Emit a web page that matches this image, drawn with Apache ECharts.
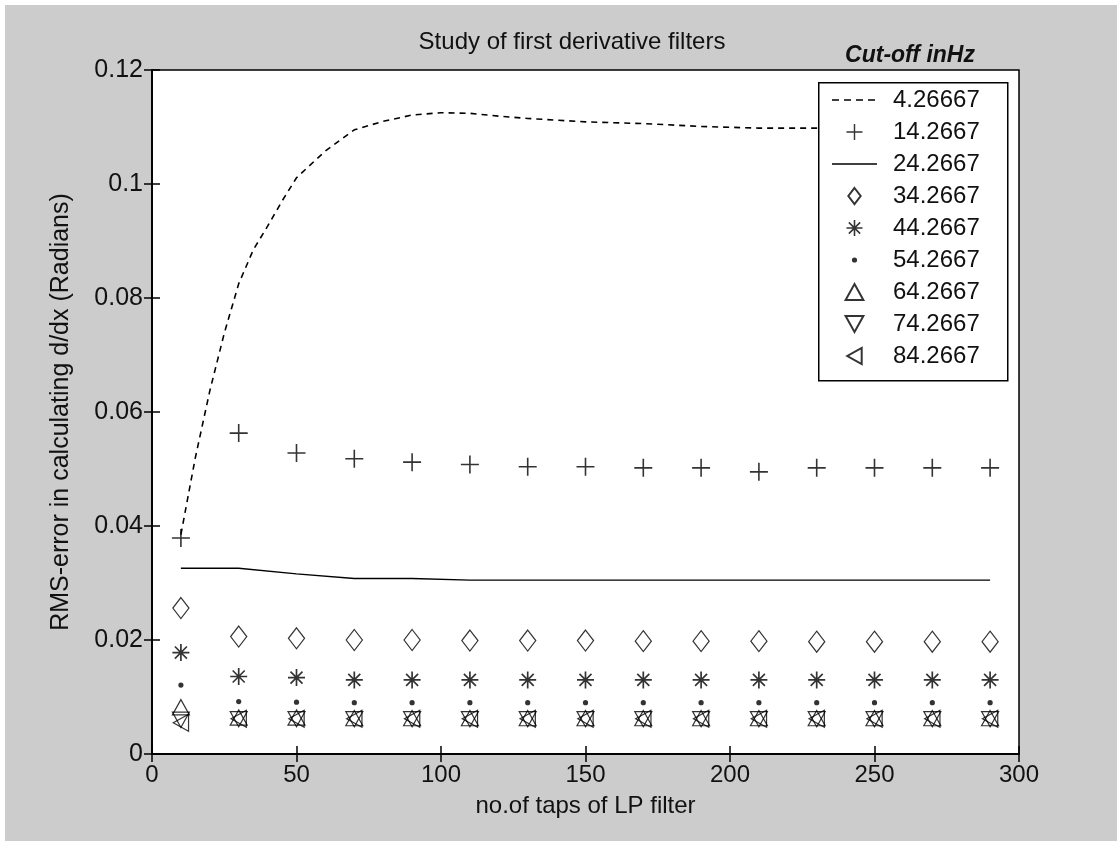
<!DOCTYPE html>
<html>
<head>
<meta charset="utf-8">
<script src="https://cdn.jsdelivr.net/npm/echarts@6/dist/echarts.min.js"></script>
<style>
html,body{margin:0;padding:0;background:#ffffff;}
#chart{width:1117px;height:841px;}
</style>
</head>
<body>
<div id="chart"></div>
<script>
// ---- data ----
const xTaps = [10, 30, 50, 70, 90, 110, 130, 150, 170, 190, 210, 230, 250, 270, 290];
const dashTaps = [10, 15, 20, 25, 30, 35, 40, 45, 50, 60, 70, 80, 90, 100, 110, 120, 130, 150, 170, 190, 210, 230, 250, 270, 290];
const cutoffNames = ['4.26667', '14.2667', '24.2667', '34.2667', '44.2667', '54.2667', '64.2667', '74.2667', '84.2667'];

const err4 = [0.0385, 0.0520, 0.0637, 0.0738, 0.0825, 0.0884, 0.0926, 0.0970, 0.1011, 0.1058, 0.1095, 0.1110, 0.1121, 0.1125, 0.1124, 0.1119, 0.1115, 0.1109, 0.1106, 0.1101, 0.1098, 0.1098, 0.1098, 0.1098, 0.1098];
const err14 = [0.0379, 0.0563, 0.0528, 0.0518, 0.0512, 0.0508, 0.0504, 0.0504, 0.0502, 0.0502, 0.0495, 0.0502, 0.0502, 0.0502, 0.0502];
const err24 = [0.0326, 0.0326, 0.0316, 0.0308, 0.0308, 0.0305, 0.0305, 0.0305, 0.0305, 0.0305, 0.0305, 0.0305, 0.0305, 0.0305, 0.0305];
const err34 = [0.0256, 0.0206, 0.0203, 0.0200, 0.0200, 0.0199, 0.0199, 0.0199, 0.0198, 0.0198, 0.0198, 0.0197, 0.0197, 0.0197, 0.0197];
const err44 = [0.0178, 0.0136, 0.0134, 0.0130, 0.0130, 0.0130, 0.0130, 0.0130, 0.0130, 0.0130, 0.0130, 0.0130, 0.0130, 0.0130, 0.0130];
const err54 = [0.0121, 0.0092, 0.0091, 0.0090, 0.0090, 0.0090, 0.0090, 0.0090, 0.0090, 0.0090, 0.0090, 0.0090, 0.0090, 0.0090, 0.0090];
const err64 = [0.0082, 0.0064, 0.0064, 0.0063, 0.0063, 0.0063, 0.0063, 0.0063, 0.0063, 0.0063, 0.0063, 0.0063, 0.0063, 0.0063, 0.0063];
const err74 = [0.0060, 0.0061, 0.0061, 0.0061, 0.0061, 0.0061, 0.0061, 0.0061, 0.0061, 0.0061, 0.0061, 0.0061, 0.0061, 0.0061, 0.0061];
const err84 = [0.0055, 0.0062, 0.0062, 0.0062, 0.0062, 0.0062, 0.0062, 0.0062, 0.0062, 0.0062, 0.0062, 0.0062, 0.0062, 0.0062, 0.0062];

const yTicks = [0, 0.02, 0.04, 0.06, 0.08, 0.1, 0.12];
const xTicks = [0, 50, 100, 150, 200, 250, 300];

// ---- symbols ----
const FONT = '"Liberation Sans", Arial, Helvetica, sans-serif';
const plusPath = 'path://M-0.8,-9 L0.8,-9 L0.8,-0.8 L9,-0.8 L9,0.8 L0.8,0.8 L0.8,9 L-0.8,9 L-0.8,0.8 L-9,0.8 L-9,-0.8 L-0.8,-0.8 Z';
const starPath = 'path://M-8,-0.8 L8,-0.8 L8,0.8 L-8,0.8 Z M-0.8,-8 L0.8,-8 L0.8,8 L-0.8,8 Z M-6.2,-5.1 L-5.1,-6.2 L6.2,5.1 L5.1,6.2 Z M-5.1,6.2 L-6.2,5.1 L5.1,-6.2 L6.2,-5.1 Z';
const dotPath = 'path://M-8,-8 L-8,-8 M8,8 L8,8 M-2.6,0 A2.6,2.6 0 1 1 2.6,0 A2.6,2.6 0 1 1 -2.6,0 Z';
const diamondPath = 'path://M0,-1.3 L1,0 L0,1.3 L-1,0 Z';
const triUpPath = 'path://M0,-0.9 L1,0.9 L-1,0.9 Z';
const triDownPath = 'path://M-1,-0.9 L1,-0.9 L0,0.9 Z';
const triLeftPath = 'path://M0.9,-1 L0.9,1 L-0.9,0 Z';
const solidLineIcon = 'path://M0,0 L45,0 L45,1.5 L0,1.5 Z';
const dashLineIcon = 'path://M0,0 L7,0 L7,1.5 L0,1.5 Z M12,0 L19,0 L19,1.5 L12,1.5 Z M24,0 L31,0 L31,1.5 L24,1.5 Z M36,0 L43,0 L43,1.5 L36,1.5 Z M45,0 L45,0';

function pairs(xs, ys) { return xs.map((x, i) => [x, ys[i]]); }

const hollow = { color: 'rgba(255,255,255,0)', borderColor: '#000', borderWidth: 1.2 };
const solid = { color: '#000', borderWidth: 0 };

function scatter(name, ys, symbol, size, style) {
  return {
    name: name, type: 'scatter', data: pairs(xTaps, ys),
    symbol: symbol, symbolSize: size, symbolKeepAspect: true, itemStyle: style,
    emphasis: { disabled: true }, silent: true, z: 2
  };
}

const series = [
  {
    name: cutoffNames[0], type: 'line', data: pairs(dashTaps, err4),
    symbol: 'none', showSymbol: false, smooth: false,
    lineStyle: { color: '#000', width: 1.6, type: [6, 5] },
    itemStyle: { color: '#000' }, z: 2, silent: true
  },
  scatter(cutoffNames[1], err14, plusPath, 18, solid),
  {
    name: cutoffNames[2], type: 'line', data: pairs(xTaps, err24),
    symbol: 'none', showSymbol: false,
    lineStyle: { color: '#000', width: 1.4, type: 'solid' },
    itemStyle: { color: '#000' }, z: 2, silent: true
  },
  scatter(cutoffNames[3], err34, diamondPath, 21, hollow),
  scatter(cutoffNames[4], err44, starPath, 17, solid),
  scatter(cutoffNames[5], err54, dotPath, 16, solid),
  scatter(cutoffNames[6], err64, triUpPath, 17, hollow),
  scatter(cutoffNames[7], err74, triDownPath, 17, hollow),
  scatter(cutoffNames[8], err84, triLeftPath, 17, hollow)
];

const legendIcons = [dashLineIcon, plusPath, solidLineIcon, diamondPath, starPath, dotPath, triUpPath, triDownPath, triLeftPath];

const axisTick = { show: true, inside: true, length: 8, lineStyle: { color: '#000', width: 1.5 } };
const axisLine = { show: true, lineStyle: { color: '#000', width: 1.5 } };

const option = {
  backgroundColor: '#cccccc',
  animation: false,
  textStyle: { fontFamily: FONT },
  title: [
    { text: 'Study of first derivative filters', left: 567, top: 25, textAlign: 'center',
      textStyle: { fontFamily: FONT, fontSize: 24, fontWeight: 'normal', color: '#111' } },
    { text: 'Cut-off inHz', left: 905, top: 39, textAlign: 'center',
      textStyle: { fontFamily: FONT, fontSize: 23, fontWeight: 'bold', fontStyle: 'italic', color: '#111' } }
  ],
  grid: {
    left: 152, right: 98, top: 70, bottom: 87,
    show: true, backgroundColor: '#ffffff', borderColor: '#000', borderWidth: 1.5
  },
  xAxis: [
    {
      type: 'value', position: 'bottom', min: xTicks[0], max: xTicks[xTicks.length - 1], interval: 50,
      name: 'no.of taps of LP filter', nameLocation: 'middle', nameGap: 40,
      nameTextStyle: { fontFamily: FONT, fontSize: 24, color: '#111' },
      axisLine: axisLine, axisTick: axisTick, splitLine: { show: false },
      axisLabel: { show: true, margin: 9, fontFamily: FONT, fontSize: 24, color: '#111' }
    },
    {
      type: 'value', position: 'top', min: xTicks[0], max: xTicks[xTicks.length - 1], interval: 50,
      axisLine: axisLine, axisTick: axisTick, splitLine: { show: false }, axisLabel: { show: false }
    }
  ],
  yAxis: [
    {
      type: 'value', position: 'left', min: yTicks[0], max: yTicks[yTicks.length - 1], interval: 0.02,
      name: 'RMS-error in calculating d/dx (Radians)', nameLocation: 'middle', nameGap: 78,
      nameTextStyle: { fontFamily: FONT, fontSize: 25, color: '#111' },
      axisLine: axisLine, axisTick: axisTick, splitLine: { show: false },
      axisLabel: { show: true, margin: 9, fontFamily: FONT, fontSize: 25, color: '#111',
        formatter: function (v) { return v === 0 ? '0' : String(+v.toFixed(2)); } }
    },
    {
      type: 'value', position: 'right', min: yTicks[0], max: yTicks[yTicks.length - 1], interval: 0.02,
      axisLine: axisLine, axisTick: axisTick, splitLine: { show: false }, axisLabel: { show: false }
    }
  ],
  legend: {
    orient: 'vertical', left: 832, top: 88, padding: 0,
    itemWidth: 45, itemHeight: 16, itemGap: 8,
    symbolKeepAspect: true,
    data: cutoffNames.map((n, i) => ({ name: n, icon: legendIcons[i] })),
    selectedMode: false,
    textStyle: { fontFamily: FONT, fontSize: 24, lineHeight: 24, color: '#111', padding: [0, 0, 0, 11] },
    z: 5
  },
  graphic: [
    { type: 'rect', left: 0, top: 0, shape: { width: 1117, height: 5 }, style: { fill: '#ffffff' }, z: 1, silent: true },
    { type: 'rect', left: 0, top: 0, shape: { width: 5, height: 841 }, style: { fill: '#ffffff' }, z: 1, silent: true },
    { type: 'rect', left: 818, top: 82, shape: { width: 189, height: 298 },
      style: { fill: '#ffffff', stroke: '#000', lineWidth: 1.5 }, z: 3, silent: true }
  ],
  series: series
};

const chart = echarts.init(document.getElementById('chart'), null, { renderer: 'canvas' });
chart.setOption(option);
</script>
</body>
</html>
